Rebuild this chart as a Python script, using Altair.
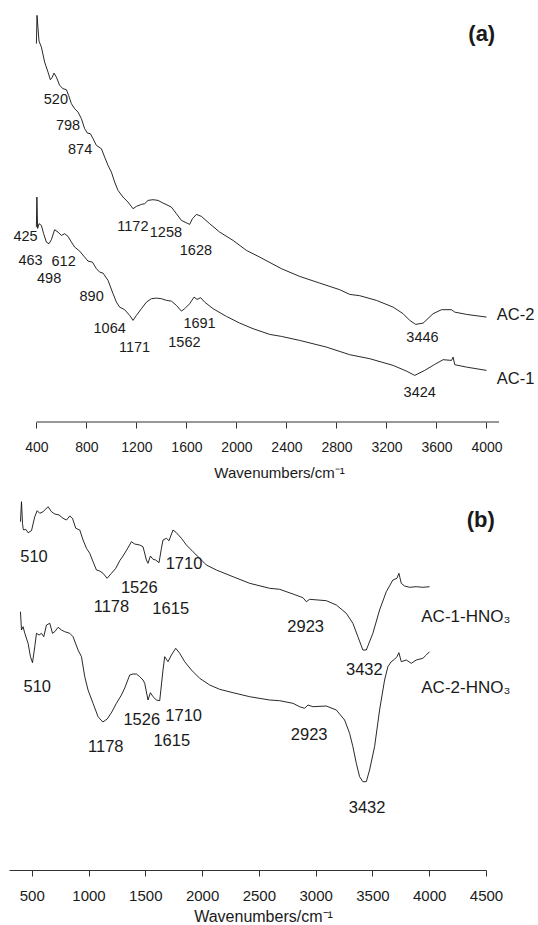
import altair as alt
import pandas as pd

# ---------------- Panel (a): raw activated carbons ----------------
# wavenumber (cm-1) and transmittance (arbitrary units)
a_ac2_wn = [400, 405, 421, 440, 466, 493, 512, 525, 541, 560, 586, 613, 640, 658, 680, 706, 733, 760, 786,
            808, 832, 853, 880, 901, 920, 946, 973, 1000, 1026, 1053, 1093, 1133, 1173, 1200, 1240, 1266,
            1293, 1333, 1373, 1413, 1453, 1480, 1520, 1560, 1626, 1648, 1680, 1720, 1786, 1866, 1973, 2080,
            2186, 2360, 2506, 2666, 2826, 2906, 2986, 3120, 3253, 3333, 3386, 3434, 3493, 3573, 3640, 3720,
            3746, 3840, 4000]
a_ac2_t = [378.3, 406.6, 380.9, 374.9, 359.9, 349.9, 342.3, 344.3, 348.9, 344.9, 336.6, 333.3, 332.3, 326.6,
           318.3, 313.3, 309.9, 303.3, 293.3, 288.9, 288.3, 283.3, 276.6, 274.9, 273.3, 264.9, 256.6, 249.9,
           239.9, 231.6, 224.9, 219.9, 213.3, 215.6, 217.6, 218.3, 221.6, 222.3, 221.6, 218.9, 216.6, 214.9,
           208.3, 201.6, 197.6, 203.3, 207.6, 205.6, 198.3, 189.9, 181.6, 171.6, 164.9, 153.3, 145.6, 138.9,
           132.3, 127.6, 126.3, 121.6, 114.9, 108.3, 101.6, 97.6, 98.9, 108.3, 112.3, 112.3, 109.9, 107.6,
           104.9]

a_ac1_wn = [400, 404, 410, 421, 440, 458, 480, 501, 520, 546, 573, 600, 626, 653, 680, 706, 746, 786, 813,
            848, 880, 906, 933, 973, 1013, 1040, 1066, 1106, 1146, 1173, 1200, 1240, 1280, 1320, 1360, 1400,
            1440, 1480, 1520, 1560, 1586, 1626, 1661, 1685, 1714, 1746, 1813, 1920, 2026, 2133, 2266, 2360,
            2506, 2720, 2906, 3066, 3253, 3360, 3426, 3506, 3586, 3653, 3720, 3733, 3746, 3840, 4000]
a_ac1_t = [194.9, 224.9, 193.6, 198.3, 196.6, 188.3, 179.9, 178.3, 182.3, 192.3, 189.9, 186.6, 188.3, 185.6,
           179.9, 174.9, 170.9, 164.9, 160.9, 159.9, 153.3, 149.9, 148.9, 141.6, 128.3, 119.9, 114.9, 112.3,
           106.6, 101.6, 106.6, 113.3, 119.9, 123.3, 123.9, 123.3, 121.6, 120.9, 116.6, 110.9, 113.3, 118.3,
           124.9, 122.6, 124.3, 119.9, 113.3, 105.6, 98.9, 93.3, 87.6, 85.6, 81.6, 74.9, 67.3, 63.3, 56.6,
           50.9, 46.6, 51.6, 57.6, 62.3, 61.6, 64.9, 57.3, 54.9, 51.6]

a_lbl_text = ["520", "798", "874", "425", "463", "612", "498", "890", "1064", "1171", "1562", "1691",
              "1172", "1258", "1628", "3446", "3424"]
a_lbl_wn = [556, 653, 750, 313, 353, 618, 502, 842, 986, 1185, 1584, 1705, 1172, 1436, 1676, 3488, 3466]
a_lbl_t = [321.6, 295.6, 271.6, 184.9, 160.9, 159.9, 142.6, 124.9, 92.9, 74.3, 79.3, 98.3, 194.9, 188.9,
           170.6, 83.6, 28.9]

a_name_text = ["AC-2", "AC-1"]
a_name_wn = [4082, 4082]
a_name_t = [106.6, 43.3]

a_ticks = list(range(400, 4001, 200))

# ---------------- Panel (b): HNO3-treated carbons ----------------
b_ac1_wn = [401, 410, 419, 424, 430, 448, 468, 498, 527, 548, 571, 600, 644, 674, 703, 741, 776, 806, 835,
            859, 888, 923, 952, 982, 1011, 1040, 1070, 1099, 1128, 1164, 1202, 1240, 1275, 1304, 1340, 1378,
            1407, 1451, 1480, 1510, 1524, 1545, 1568, 1592, 1621, 1642, 1656, 1686, 1709, 1744, 1774, 1818,
            1862, 1920, 1979, 2038, 2126, 2272, 2419, 2595, 2683, 2800, 2888, 2918, 2947, 3094, 3182, 3270,
            3328, 3372, 3416, 3446, 3504, 3563, 3622, 3680, 3716, 3733, 3754, 3783, 3827, 3886, 3944, 4003]
b_ac1_t = [348.3, 368.3, 346.7, 341.7, 340, 340.7, 337.3, 339.3, 353.3, 359.3, 356.7, 358.3, 363.3, 358.3,
           356, 355, 351.7, 350, 354, 351.7, 341.7, 340, 330, 321.7, 316.7, 308.3, 300, 299, 296.7, 291.7,
           296.7, 301.7, 309.3, 314, 320.7, 328.3, 326, 325, 323.3, 310, 306.7, 314, 310.7, 310, 307.3, 321.7,
           330, 331.7, 329.3, 340, 337.3, 331.7, 325, 318.3, 311.7, 305, 300, 293.3, 286.7, 281.7, 280.7,
           276, 272.3, 268.3, 270.7, 269.3, 265, 256.7, 246.7, 233.3, 220, 220, 236.7, 260, 278.3, 290,
           291.7, 296.7, 286.7, 284, 282.7, 283.3, 282.7, 283.3]

b_ac2_wn = [401, 410, 424, 439, 468, 489, 507, 527, 542, 565, 586, 606, 630, 659, 683, 703, 732, 762, 791,
            835, 864, 908, 938, 967, 996, 1040, 1084, 1126, 1165, 1205, 1246, 1290, 1319, 1363, 1392, 1422,
            1451, 1480, 1495, 1524, 1545, 1568, 1598, 1627, 1656, 1671, 1700, 1730, 1768, 1803, 1847, 1906,
            1979, 2067, 2155, 2272, 2419, 2595, 2683, 2800, 2859, 2903, 2932, 2976, 3094, 3182, 3255, 3299,
            3328, 3358, 3387, 3416, 3446, 3475, 3519, 3563, 3607, 3636, 3666, 3695, 3716, 3733, 3754, 3798,
            3842, 3886, 3944, 3974, 4003]
b_ac2_t = [258.3, 240, 243.3, 236.7, 226.7, 213.3, 207.3, 223.3, 236.7, 235, 236.7, 233.3, 245, 246.7,
           236.7, 238.3, 242.7, 240, 238.3, 236.7, 233.3, 220, 213.3, 193.3, 180, 166.7, 153.3, 148, 151,
           158, 166.7, 175, 182, 195, 196, 196, 193.3, 190, 186.7, 170, 177.3, 173.3, 170, 169.3, 200,
           213.3, 208.3, 215, 221.7, 216.7, 208.3, 200, 191.7, 185, 180.7, 177.3, 173.3, 170, 169.3, 166.7,
           163.3, 161.7, 165, 163.3, 164, 160, 150, 136.7, 123.3, 106.7, 93.3, 88.3, 88.3, 100, 123.3,
           160, 190, 203.3, 208.3, 210.7, 213.3, 217.3, 208.3, 210, 206.7, 210, 211.7, 215, 218.3]

b_lbl_text = ["510", "1710", "1526", "1178", "1615", "2923", "3432",
              "510", "1526", "1710", "1615", "1178", "2923", "3432"]
b_lbl_wn = [520, 1841, 1447, 1202, 1724, 2912, 3429, 549, 1469, 1838, 1733, 1152, 2943, 3453]
b_lbl_t = [312.7, 305.7, 281.7, 262.7, 260.7, 242.7, 200, 182.7, 150, 154, 129, 123, 135, 61.7]

b_name_text = ["AC-1-HNO\u2083", "AC-2-HNO\u2083"]
b_name_wn = [3930, 3930]
b_name_t = [253.3, 181.7]

b_ticks = list(range(500, 4501, 250))

FONT = "Liberation Sans"
INK = "#1a1a1a"
AXIS_INK = "#333333"
TITLE = "Wavenumbers/cm\u207b\u00b9"


def spectra_frame(pairs):
    rows = []
    for name, wn, t in pairs:
        for w, v in zip(wn, t):
            rows.append({"series": name, "wn": w, "t": v})
    return pd.DataFrame(rows)


def panel(spec_df, lbl_df, name_df, tag_df, x_dom, y_dom, ticks, major,
          tick_font, title_font, ann_font, name_font, title_x, title_y, axis_domain):
    xs = alt.Scale(domain=x_dom, nice=False, zero=False)
    ys = alt.Scale(domain=y_dom, nice=False, zero=False)
    axis = alt.Axis(
        values=ticks,
        labelExpr=f"datum.value % {major} === 0 ? datum.label : ''",
        format="d",
        tickSize={"condition": {"test": f"datum.value % {major} === 0", "value": 6}, "value": 3.5},
        tickColor=AXIS_INK, tickWidth=1,
        domain=axis_domain, domainColor=AXIS_INK, domainWidth=1,
        labelFont=FONT, labelFontSize=tick_font, labelColor=INK, labelPadding=12,
        labelFlush=False, labelOverlap=False, grid=False,
        title=TITLE, titleFont=FONT, titleFontSize=title_font, titleFontWeight="normal",
        titleColor=INK, titleX=title_x, titleY=title_y, titleAlign="center",
        titleBaseline="alphabetic", titleAnchor="start",
    )
    lines = alt.Chart(spec_df).mark_line(color="#111111", strokeWidth=0.9).encode(
        x=alt.X("wn:Q", scale=xs, axis=axis),
        y=alt.Y("t:Q", scale=ys, axis=None),
        detail="series:N",
    )
    ann = alt.Chart(lbl_df).mark_text(font=FONT, fontSize=ann_font, color=INK,
                                      align="center", baseline="middle").encode(
        x=alt.X("wn:Q", scale=xs), y=alt.Y("t:Q", scale=ys), text="text:N")
    names = alt.Chart(name_df).mark_text(font=FONT, fontSize=name_font, color=INK,
                                         align="left", baseline="middle").encode(
        x=alt.X("wn:Q", scale=xs), y=alt.Y("t:Q", scale=ys), text="text:N")
    tag = alt.Chart(tag_df).mark_text(font=FONT, fontSize=22, fontWeight="bold", color=INK,
                                      align="center", baseline="middle").encode(
        x=alt.X("wn:Q", scale=xs), y=alt.Y("t:Q", scale=ys), text="text:N")
    return [lines, ann, names, tag], xs, ys


a_spec = spectra_frame([("AC-2", a_ac2_wn, a_ac2_t), ("AC-1", a_ac1_wn, a_ac1_t)])
a_lbl = pd.DataFrame({"text": a_lbl_text, "wn": a_lbl_wn, "t": a_lbl_t})
a_name = pd.DataFrame({"text": a_name_text, "wn": a_name_wn, "t": a_name_t})
a_tag = pd.DataFrame({"text": ["(a)"], "wn": [3962], "t": [388.3]})

b_spec = spectra_frame([("AC-1-HNO3", b_ac1_wn, b_ac1_t), ("AC-2-HNO3", b_ac2_wn, b_ac2_t)])
b_lbl = pd.DataFrame({"text": b_lbl_text, "wn": b_lbl_wn, "t": b_lbl_t})
b_name = pd.DataFrame({"text": b_name_text, "wn": b_name_wn, "t": b_name_t})
b_tag = pd.DataFrame({"text": ["(b)"], "wn": [4454], "t": [350]})

layers_a, xs_a, ys_a = panel(a_spec, a_lbl, a_name, a_tag, [181, 4100], [0, 422], a_ticks, 400,
                             14, 15, 14.5, 16.5, 270, 55, False)
# axis line of panel (a) runs from 400 to 4100 only
a_axis_line = pd.DataFrame({"x0": [400], "x1": [4100], "y": [0]})
rule_a = alt.Chart(a_axis_line).mark_rule(color=AXIS_INK, strokeWidth=1).encode(
    x=alt.X("x0:Q", scale=xs_a), x2="x1:Q", y=alt.Y("y:Q", scale=ys_a))
panel_a = alt.layer(*layers_a, rule_a).properties(width=490, height=422)

layers_b, xs_b, ys_b = panel(b_spec, b_lbl, b_name, b_tag, [300, 4500], [0, 390], b_ticks, 500,
                             15, 16, 16.5, 17, 254, 51, True)
panel_b = alt.layer(*layers_b).properties(width=477, height=390)

chart = alt.vconcat(panel_a, panel_b, spacing=58).properties(
    bounds="flush",
    padding={"left": 9, "top": 0, "right": 0, "bottom": 0},
).configure_view(stroke=None)

chart.save("out.html", embed_options={"renderer": "svg", "actions": False})
